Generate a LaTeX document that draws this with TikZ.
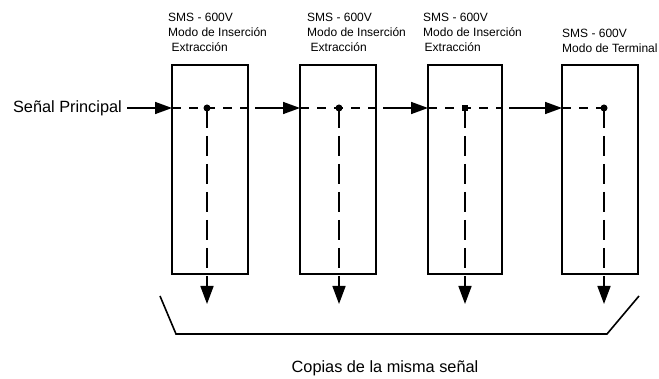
\documentclass[tikz,border=0pt]{standalone}
\usepackage{fontspec}
\setmainfont{Liberation Sans}
\usetikzlibrary{arrows.meta}
\tikzset{
  boxnode/.style={draw, line width=1.7pt, minimum width=76pt, minimum height=209pt, inner sep=0pt, outer sep=0pt},
  lbl/.style={anchor=base west, align=left, inner sep=0pt, font=\fontsize{12}{15}\selectfont},
  big/.style={inner sep=0pt, font=\fontsize{16.3}{19}\selectfont},
  arr/.style={line width=1.6pt, -{Triangle[length=17pt,width=12pt]}},
  hdash/.style={line width=1.6pt, dash pattern=on 9pt off 8pt},
  vdash/.style={line width=1.6pt, dash pattern=on 20pt off 8pt, -{Triangle[length=18pt,width=13pt]}},
  rdot/.style={circle, fill, inner sep=0pt, minimum size=7pt},
  sdot/.style={rectangle, fill, inner sep=0pt, minimum size=6.5pt},
  brk/.style={line width=1.6pt}
}
\begin{document}
\begin{tikzpicture}[x=1pt,y=-1pt]
\useasboundingbox (0,0) rectangle (659,379);
% boxes
\node[boxnode] (b1) at (210,169.5) {};
\node[boxnode] (b2) at (338,169.5) {};
\node[boxnode, minimum width=74pt] (b3) at (465,169.5) {};
\node[boxnode] (b4) at (600,169.5) {};
% labels (anchored at the baseline of the last line)
\node[lbl] (t1) at (168,52) {SMS - 600V\\Modo de Inserción\\\hspace{3.5pt}Extracción};
\node[lbl] (t2) at (307,52) {SMS - 600V\\Modo de Inserción\\\hspace{3.5pt}Extracción};
\node[lbl] (t3) at (423,52) {SMS - 600V\\Modo de Inserción\\\hspace{1.5pt}Extracción};
\node[lbl] (t4) at (562,53) {SMS - 600V\\Modo de Terminal};
\node[big, anchor=east] (sp) at (122,108) {Señal Principal};
\node[big] (cp) at (385,368) {Copias de la misma señal};
% branch dots
\node[rdot] (d1) at (207,108) {};
\node[rdot] (d2) at (339,108) {};
\node[sdot] (d3) at (465,108) {};
\node[rdot] (d4) at (604,108) {};
% arrow ends
\coordinate (e1) at (207,304);
\coordinate (e2) at (339,304);
\coordinate (e3) at (465,304);
\coordinate (e4) at (604,304);
% main signal
\draw[arr] ([xshift=5pt]sp.east) -- (b1.west |- d1);
\draw[hdash] (b1.west |- d1) -- (b1.east |- d1);
\draw[arr] ([xshift=7pt]b1.east |- d1) -- (b2.west |- d2);
\draw[hdash] (b2.west |- d2) -- (b2.east |- d2);
\draw[arr] ([xshift=7pt]b2.east |- d2) -- (b3.west |- d3);
\draw[hdash] (b3.west |- d3) -- (b3.east |- d3);
\draw[arr] ([xshift=7pt]b3.east |- d3) -- (b4.west |- d4);
\draw[hdash] (b4.west |- d4) -- (d4.center);
% drops
\draw[vdash] (d1.center) -- (e1);
\draw[vdash] (d2.center) -- (e2);
\draw[vdash] (d3.center) -- (e3);
\draw[vdash] (d4.center) -- (e4);
% bracket
\coordinate (k1) at (160,296);
\coordinate (k2) at (176,334);
\coordinate (k3) at (607,334);
\coordinate (k4) at (639,296);
\draw[brk] (k1) -- (k2) -- (k3) -- (k4);
\end{tikzpicture}
\end{document}
